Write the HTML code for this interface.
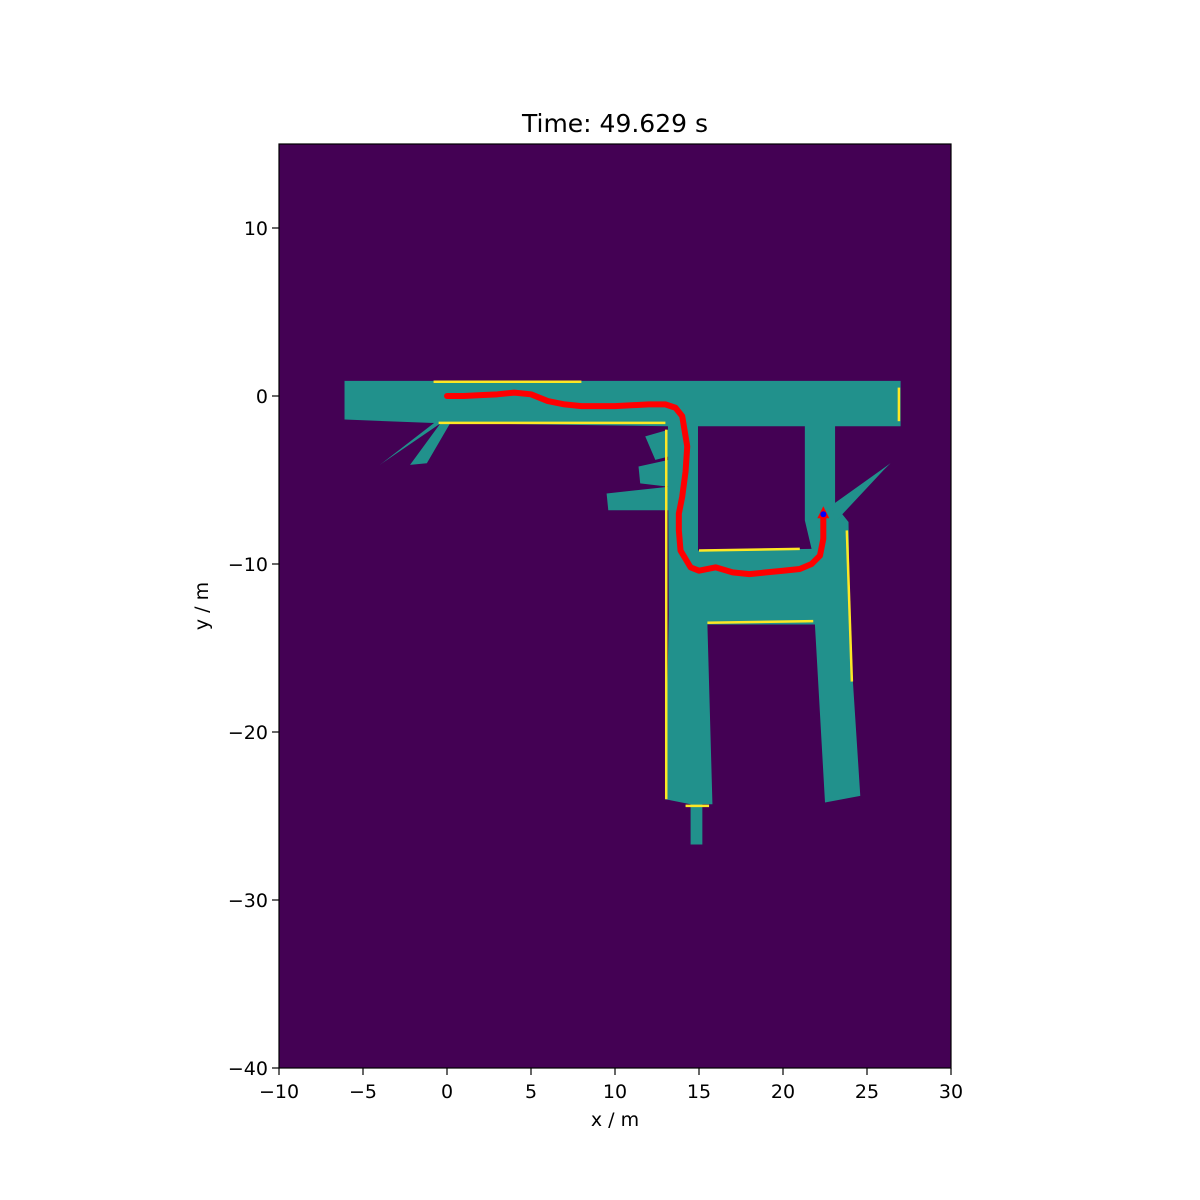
<!DOCTYPE html>
<html><head><meta charset="utf-8"><style>
body{margin:0;background:#fff}
svg{display:block;font-family:"DejaVu Sans","Liberation Sans",sans-serif}
</style></head><body>
<svg id="c" width="1200" height="1200"></svg>
<script>
const xTicks=[-10,-5,0,5,10,15,20,25,30];
const yTicks=[10,0,-10,-20,-30,-40];
const titleText="Time: 49.629 s";
const outerPoly=[[-6.1,0.9],[27,0.9],[27,-1.8],[23.1,-1.8],[23.1,-6.5],[23.9,-7.5],[24.0,-14.5],[24.6,-23.8],[22.5,-24.2],[21.9,-13.6],[15.5,-13.6],[15.8,-24.3],[15.2,-24.3],[15.2,-26.7],[14.5,-26.7],[14.5,-24.3],[13.0,-24.0],[13.2,-13],[13.15,-1.8],[-1.0,-1.6],[-6.1,-1.4]];
const holePoly=[[14.94,-1.8],[21.3,-1.8],[21.3,-7.4],[21.7,-9.1],[14.94,-9.2]];
const rays=[[[-0.5,-1.4],[-4,-4.1],[-0.2,-1.5]],[[-0.3,-1.5],[-2.2,-4.1],[-1.2,-4.0],[0.2,-1.6]],[[22.9,-6.5],[26.4,-4.0],[26.0,-4.4],[23.1,-7.5]],[[9.5,-5.8],[13.2,-5.4],[13.2,-6.8],[9.6,-6.8]],[[11.4,-4.2],[13.2,-3.8],[13.2,-5.4],[11.5,-5.2]],[[11.8,-2.4],[13.2,-2.0],[13.2,-3.6],[12.4,-3.8]]];
const yellowLines=[[[-0.8,0.85],[8,0.85]],[[-0.5,-1.6],[13,-1.6]],[[13.05,-2],[13.05,-24]],[[15,-9.2],[21,-9.1]],[[15.5,-13.5],[21.8,-13.4]],[[23.8,-8],[24.1,-17]],[[14.2,-24.4],[15.6,-24.4]],[[26.9,0.5],[26.9,-1.5]]];
const pathX=[0,1,2,3,4,5,6,7,8,10,12,13,13.6,14,14.3,14.2,14.0,13.8,13.8,13.9,14.5,15,16,17,18,19,20,21,21.7,22.2,22.4,22.4];
const pathY=[0,0,0.05,0.1,0.2,0.1,-0.3,-0.5,-0.6,-0.6,-0.5,-0.5,-0.7,-1.2,-3,-4.5,-6,-7,-8,-9.2,-10.2,-10.4,-10.2,-10.5,-10.6,-10.5,-10.4,-10.3,-10.0,-9.5,-8.5,-7.1];
const L=279,R=951,T=144,B=1068,X0=-10,X1=30,Y0=-40,Y1=15;
const sx=v=>L+(v-X0)/(X1-X0)*(R-L), sy=v=>B-(v-Y0)/(Y1-Y0)*(B-T);
const NS="http://www.w3.org/2000/svg", svg=document.getElementById('c');
function mk(t,a,p){const e=document.createElementNS(NS,t);for(const k in a)e.setAttribute(k,a[k]);(p||svg).appendChild(e);return e;}
const pts=a=>a.map(p=>sx(p[0])+','+sy(p[1])).join(' ');
const bg=mk('rect',{x:L,y:T,width:R-L,height:B-T,fill:'#440154'});


const free=mk('path',{d:'M'+pts(outerPoly)+'Z M'+pts(holePoly)+'Z','fill-rule':'evenodd',fill:'#21918c'});


rays.forEach(r=>{const e=mk('polygon',{points:pts(r),fill:'#21918c'});

});
yellowLines.forEach(l=>{const e=mk('polyline',{points:pts(l),stroke:'#fde725','stroke-width':2.5,fill:'none'});

});
const tr=mk('polyline',{points:pathX.map((x,i)=>sx(x)+','+sy(pathY[i])).join(' '),stroke:'#ff0000','stroke-width':6,fill:'none','stroke-linejoin':'round','stroke-linecap':'round'});


const lx=sx(pathX[pathX.length-1]),ly=sy(pathY[pathY.length-1]);
const ar=mk('polygon',{points:`${lx},${ly-9} ${lx-6},${ly+3} ${lx+6},${ly+3}`,fill:'#ff0000'});


const dot=mk('circle',{cx:lx,cy:ly-1,r:3,fill:'#0000ff'});


const fr=mk('rect',{x:L,y:T,width:R-L,height:B-T,fill:'none',stroke:'#000','stroke-width':1.2});


xTicks.forEach(v=>{const x=sx(v);mk('line',{x1:x,x2:x,y1:B,y2:B+7,stroke:'#000','stroke-width':1.2});
const t=mk('text',{x:x,y:B+30,'text-anchor':'middle','font-size':19});t.textContent=(v<0?'\u2212'+(-v):v);

});
yTicks.forEach(v=>{const y=sy(v);mk('line',{x1:L-7,x2:L,y1:y,y2:y,stroke:'#000','stroke-width':1.2});
const t=mk('text',{x:L-11,y:y+7,'text-anchor':'end','font-size':19});t.textContent=(v<0?'\u2212'+(-v):v);

});
const ti=mk('text',{x:615,y:132,'text-anchor':'middle','font-size':25});ti.textContent=titleText;


const xl=mk('text',{x:615,y:1126,'text-anchor':'middle','font-size':19});xl.textContent='x / m';


const yl=mk('text',{x:208,y:606,'text-anchor':'middle','font-size':19,transform:'rotate(-90 208 606)'});yl.textContent='y / m';


</script>
</body></html>
